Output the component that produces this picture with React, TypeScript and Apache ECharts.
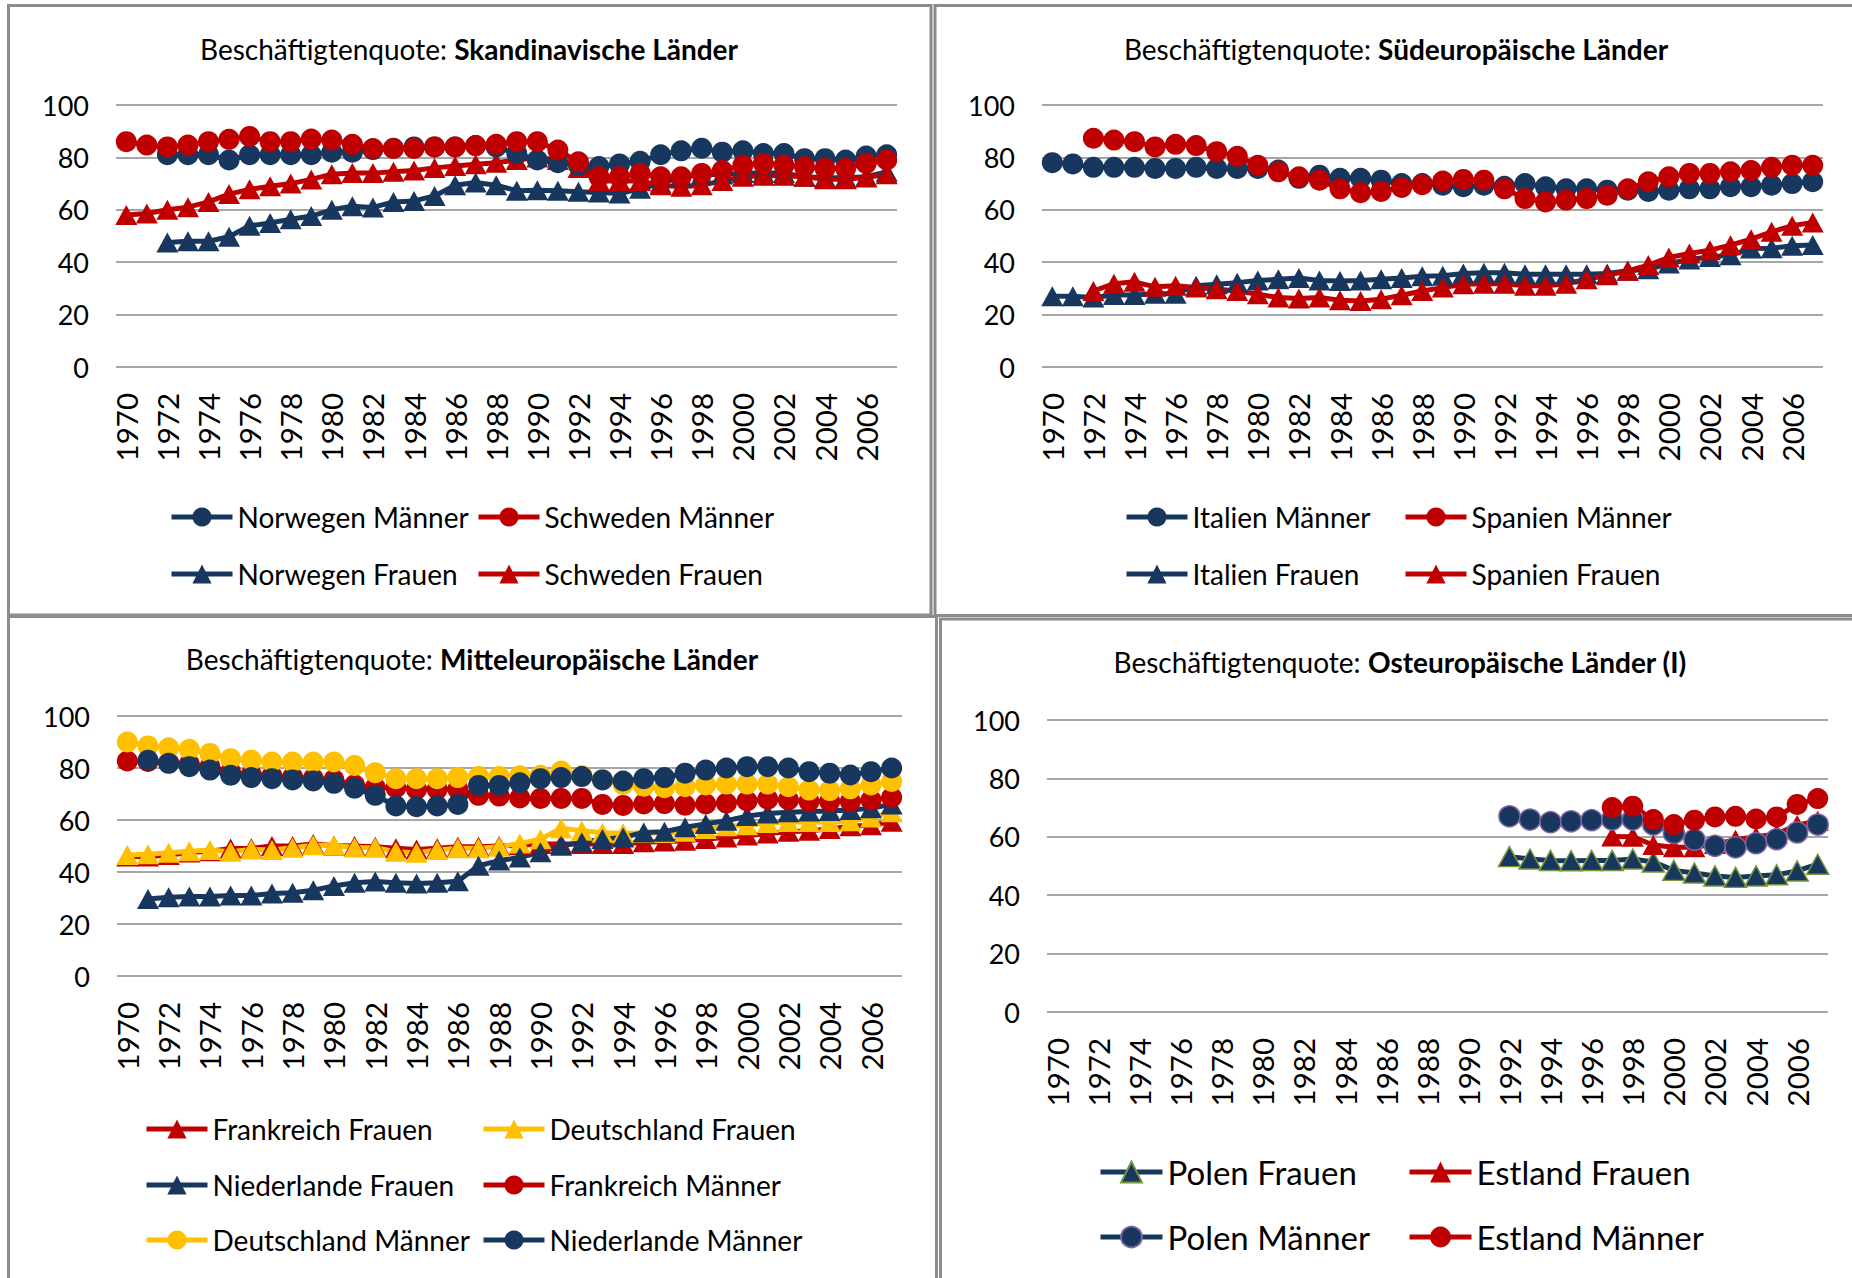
import React, { useEffect, useRef } from 'react';
import * as echarts from 'echarts';

const years = ['1970','1971','1972','1973','1974','1975','1976','1977','1978','1979','1980','1981','1982','1983','1984','1985','1986','1987','1988','1989','1990','1991','1992','1993','1994','1995','1996','1997','1998','1999','2000','2001','2002','2003','2004','2005','2006','2007'];
const yTicks = { min: 0, max: 100, interval: 20 };

// Panel 1: Skandinavische Länder
const norwegenMaenner = [null, null, 81, 81, 81, 79, 81, 81, 81, 81, 82, 82, 83, 83.5, 84, 84, 84, 84.5, 84, 81.5, 79, 78, 77, 76.5, 77.5, 78.5, 81, 82.5, 83.5, 82, 82.5, 81.5, 81.5, 79.5, 79.5, 79, 80.5, 81];
const schwedenMaenner = [86, 84.7, 84, 84.7, 86, 86.9, 88, 86, 86, 87, 86.6, 85, 83.4, 83.4, 83.4, 84, 84, 84.5, 85, 86, 86, 82.8, 78.3, 72.6, 72.6, 73.9, 72.6, 72.6, 73.9, 75, 77, 77.7, 77, 76.4, 75.8, 75.8, 77.7, 79];
const norwegenFrauen = [null, null, 47.5, 48, 48, 49.7, 53.9, 55, 56.4, 57.6, 60, 61.4, 60.9, 63, 63.4, 65.3, 69.4, 70.4, 69.4, 67.3, 67.5, 67.3, 66.9, 66.6, 66.2, 68, 70, 72.6, 73.5, 73.5, 74, 74, 74, 72.6, 72.2, 72.2, 72.6, 74.5];
const schwedenFrauen = [58, 58.6, 60, 61, 63, 66, 67.8, 69, 70, 71.6, 73.6, 74, 74, 74.5, 75, 76, 76.7, 77.4, 78, 79, 80, 79, 76, 71, 71, 71, 69.4, 68.8, 69.4, 71, 72.6, 73, 73, 72.6, 71.7, 71.7, 72.3, 73.6];

// Panel 2: Südeuropäische Länder
const italienMaenner = [78, 77.5, 76.2, 76.2, 76.2, 75.8, 75.8, 76.2, 75.8, 75.8, 75.8, 75.2, 72, 73.2, 72, 72, 71.3, 70, 70, 69.4, 68.8, 69.4, 69, 70, 68.8, 68, 68, 67.5, 67.5, 67, 67.5, 68, 68, 68.8, 68.8, 69.4, 70, 70.7];
const spanienMaenner = [null, null, 87.3, 86.6, 86, 84, 85, 84.5, 82.2, 80.4, 77, 74.5, 72.6, 71.3, 68, 66.5, 67, 68.5, 69.6, 71, 71.6, 71.3, 68, 64.3, 63, 63.7, 64.3, 65.6, 68, 70.7, 72.6, 73.9, 73.9, 74.5, 75, 76.2, 77, 77];
const italienFrauen = [27, 27, 26.5, 27.5, 27.5, 28, 28, 31, 31.6, 32.2, 33, 33.5, 34, 33, 32.8, 33, 33.5, 34, 34.6, 34.8, 35.7, 36, 36, 35.4, 35.4, 35.4, 35.4, 35.7, 36.7, 37.3, 39.5, 41, 42, 42.7, 45.2, 45.3, 46.3, 46.6];
const spanienFrauen = [null, null, 29, 31.8, 32.5, 30.6, 31, 30.3, 29.7, 29, 27.8, 26.5, 26.1, 26.5, 25.5, 25.2, 25.9, 27.4, 29, 30.3, 31.6, 31.8, 31.8, 31, 31, 31.8, 33.5, 35, 36.7, 38.9, 41.8, 43.3, 44.6, 46.5, 48.8, 51.6, 53.9, 55.2];

// Panel 3: Mitteleuropäische Länder
const frankreichFrauen = [46, 46, 46.5, 47.5, 48, 49, 49.1, 50, 50, 50.8, 50.2, 50, 49.7, 49.1, 48.7, 49.1, 49.7, 49.7, 50, 50.3, 50.8, 50.8, 50.8, 50.8, 50.8, 51.4, 51.7, 52, 52.7, 53.3, 54, 54.8, 55.5, 55.9, 56.5, 57.6, 58, 59.3];
const deutschlandFrauen = [46.5, 46.8, 47.4, 48, 48.5, 47.8, 48.7, 48.5, 49.3, 50.3, 50.3, 49.4, 49.3, 47.8, 47.4, 48.5, 49.1, 49.1, 49.7, 51, 52.6, 56.8, 55.9, 55.1, 54.9, 55, 55, 55.5, 56.5, 57.6, 58, 58.8, 59.2, 59.2, 59.2, 59.5, 61, 63];
const niederlandeFrauen = [null, 29.6, 30.3, 30.6, 30.6, 31, 31, 31.7, 32, 33, 34.6, 35.9, 36.3, 35.9, 35.6, 35.9, 36.4, 42.4, 44.4, 45.6, 47.6, 50.1, 51.4, 52.7, 53.3, 55.2, 55.5, 57.2, 58.5, 59.7, 61.5, 62.5, 63, 63.3, 63.5, 63.8, 64.5, 66];
const frankreichMaenner = [82.7, 82.5, 82, 81.5, 80.5, 78.5, 77.5, 77, 76.5, 76, 75.5, 73.5, 72.5, 72.4, 71.8, 71.8, 71.8, 69.5, 69.2, 68.5, 68.3, 68.3, 68.3, 66, 65.6, 66.2, 66.3, 65.7, 66.2, 66.5, 67.3, 68, 67.7, 67.1, 67.1, 67.1, 67.7, 68.7];
const deutschlandMaenner = [90, 88.5, 87.8, 87.2, 85.6, 83.6, 83, 82.3, 82.3, 82.3, 82.3, 81, 78.2, 75.9, 75.9, 75.9, 76.3, 76.7, 76.7, 77, 77.2, 78.8, 77, 75.5, 73.7, 73, 72.4, 72.8, 73.5, 73.8, 73.8, 73.8, 72.8, 71.5, 71.3, 72, 73.5, 74.8];
const niederlandeMaenner = [null, 83, 81.8, 80.5, 79.2, 77.2, 76.3, 75.9, 75.4, 75, 74.1, 72.2, 69.5, 65.4, 65.1, 65.4, 66, 73.3, 73.3, 74.3, 75.9, 76.3, 76.7, 75.4, 75, 75.9, 76.3, 78, 79.2, 80, 80.5, 80.5, 80, 78.6, 78, 77.3, 78.6, 80];

// Panel 4: Osteuropäische Länder (I)
const polenFrauen = [null, null, null, null, null, null, null, null, null, null, null, null, null, null, null, null, null, null, null, null, null, null, 53.2, 52.4, 51.9, 51.8, 51.9, 51.9, 52.4, 51.4, 48.5, 47.6, 46.6, 46.1, 46.6, 47, 48.3, 50.6];
const estlandFrauen = [null, null, null, null, null, null, null, null, null, null, null, null, null, null, null, null, null, null, null, null, null, null, null, null, null, null, null, 60.1, 60, 57.2, 56.4, 56.4, 57.5, 59, 60, 61, 64, 65.5];
const polenMaenner = [null, null, null, null, null, null, null, null, null, null, null, null, null, null, null, null, null, null, null, null, null, null, 67, 65.9, 65, 65.3, 65.7, 65.9, 65.9, 64.2, 61.3, 59, 56.9, 56.4, 57.8, 59.2, 61.5, 64.2];
const estlandMaenner = [null, null, null, null, null, null, null, null, null, null, null, null, null, null, null, null, null, null, null, null, null, null, null, null, null, null, null, 70, 70.5, 65.9, 64.2, 65.7, 66.8, 67, 66.1, 66.8, 71.1, 73.1];

const NAVY = '#17375E';
const RED = '#C00000';
const YELLOW = '#FFC000';
const FONT = 'Lato';

function mk(name: string, data: (number | null)[], color: string, symbol: string, g: number, border?: string) {
  return {
    type: 'line',
    name,
    data,
    xAxisIndex: g,
    yAxisIndex: g,
    symbol,
    symbolSize: symbol === 'circle' ? 21 : [22, 20],
    showAllSymbol: true,
    connectNulls: false,
    lineStyle: { color, width: 5 },
    itemStyle: border ? { color, borderColor: border, borderWidth: 1.5 } : { color },
    emphasis: { disabled: true },
  };
}

const grids = [
  { left: 116, top: 105, width: 781, height: 262 },
  { left: 1042, top: 105, width: 781, height: 262 },
  { left: 117, top: 716, width: 785, height: 260 },
  { left: 1047, top: 720, width: 781, height: 292 },
];

function titleOf(bold: string, cx: number, cy: number) {
  return {
    text: '{n|Beschäftigtenquote: }{b|' + bold + '}',
    left: cx,
    top: cy,
    textAlign: 'center',
    textVerticalAlign: 'middle',
    padding: 0,
    textStyle: {
      fontWeight: 'normal',
      rich: {
        n: { fontFamily: FONT, fontSize: 28, fontWeight: 'normal', color: '#000' },
        b: { fontFamily: FONT, fontSize: 28, fontWeight: 'bold', color: '#000' },
      },
    },
  };
}

function leg(name: string, left: number, cy: number, big?: boolean) {
  const fs = big ? 33 : 28;
  const ih = big ? 26 : 24;
  return {
    data: [name],
    left,
    top: cy - fs / 2,
    padding: 0,
    itemWidth: big ? 62 : 61,
    itemHeight: ih,
    selectedMode: false,
    lineStyle: { width: 5 },
    textStyle: { fontFamily: FONT, fontSize: fs, color: '#000' },
  };
}

export default function App() {
  const ref = useRef<HTMLDivElement>(null);
  useEffect(() => {
    if (!ref.current) return;
    const chart = echarts.init(ref.current, null, { renderer: 'svg' });
    const xAxis = grids.map((_, g) => ({
      type: 'category',
      gridIndex: g,
      data: years,
      boundaryGap: true,
      axisLine: { show: false },
      axisTick: { show: false },
      splitLine: { show: false },
      axisLabel: { rotate: 90, interval: 1, fontFamily: FONT, fontSize: 29.5, color: '#000', margin: 26 },
    }));
    const yAxis = grids.map((_, g) => ({
      type: 'value',
      gridIndex: g,
      min: yTicks.min,
      max: yTicks.max,
      interval: yTicks.interval,
      axisLine: { show: false },
      axisTick: { show: false },
      axisLabel: { fontFamily: FONT, fontSize: 27, color: '#000', margin: 27 },
      splitLine: { lineStyle: { color: '#A6A6A6', width: 2 } },
    }));
    const border = (x: number, y: number, w: number, h: number) => ({
      type: 'rect',
      shape: { x, y, width: w, height: h },
      style: { fill: 'none', stroke: '#8C8C8C', lineWidth: 3 },
      silent: true,
    });
    chart.setOption({
      animation: false,
      backgroundColor: '#fff',
      title: [
        titleOf('Skandinavische Länder', 469, 49),
        titleOf('Südeuropäische Länder', 1396, 49),
        titleOf('Mitteleuropäische Länder', 472, 659),
        titleOf('Osteuropäische Länder (I)', 1400, 662),
      ],
      grid: grids,
      xAxis,
      yAxis,
      legend: [
        leg('Norwegen Männer', 169, 517), leg('Schweden Männer', 476, 517),
        leg('Norwegen Frauen', 169, 574), leg('Schweden Frauen', 476, 574),
        leg('Italien Männer', 1124, 517), leg('Spanien Männer', 1403, 517),
        leg('Italien Frauen', 1124, 574), leg('Spanien Frauen', 1403, 574),
        leg('Frankreich Frauen', 144, 1129), leg('Deutschland Frauen', 481, 1129),
        leg('Niederlande Frauen', 144, 1185), leg('Frankreich Männer', 481, 1185),
        leg('Deutschland Männer', 144, 1240), leg('Niederlande Männer', 481, 1240),
        leg('Polen Frauen', 1098, 1172, true), leg('Estland Frauen', 1407, 1172, true),
        leg('Polen Männer', 1098, 1237, true), leg('Estland Männer', 1407, 1237, true),
      ],
      graphic: [
        border(8.5, 5.5, 922.5, 609.5),
        border(935, 5.5, 930, 610),
        border(8.5, 616.5, 928, 680),
        border(940.5, 619, 930, 680),
      ],
      series: [
        mk('Norwegen Frauen', norwegenFrauen, NAVY, 'triangle', 0),
        mk('Schweden Frauen', schwedenFrauen, RED, 'triangle', 0),
        mk('Norwegen Männer', norwegenMaenner, NAVY, 'circle', 0),
        mk('Schweden Männer', schwedenMaenner, RED, 'circle', 0),
        mk('Italien Frauen', italienFrauen, NAVY, 'triangle', 1),
        mk('Spanien Frauen', spanienFrauen, RED, 'triangle', 1),
        mk('Italien Männer', italienMaenner, NAVY, 'circle', 1),
        mk('Spanien Männer', spanienMaenner, RED, 'circle', 1),
        mk('Frankreich Frauen', frankreichFrauen, RED, 'triangle', 2),
        mk('Deutschland Frauen', deutschlandFrauen, YELLOW, 'triangle', 2),
        mk('Niederlande Frauen', niederlandeFrauen, NAVY, 'triangle', 2),
        mk('Frankreich Männer', frankreichMaenner, RED, 'circle', 2),
        mk('Deutschland Männer', deutschlandMaenner, YELLOW, 'circle', 2),
        mk('Niederlande Männer', niederlandeMaenner, NAVY, 'circle', 2),
        mk('Polen Frauen', polenFrauen, NAVY, 'triangle', 3, '#77933C'),
        mk('Estland Frauen', estlandFrauen, RED, 'triangle', 3),
        mk('Polen Männer', polenMaenner, NAVY, 'circle', 3, '#8064A2'),
        mk('Estland Männer', estlandMaenner, RED, 'circle', 3),
      ],
    });
    return () => chart.dispose();
  }, []);
  return (
    <div
      ref={ref}
      style={{ position: 'fixed', left: 0, top: 0, width: 1852, height: 1278, background: '#fff' }}
    />
  );
}
